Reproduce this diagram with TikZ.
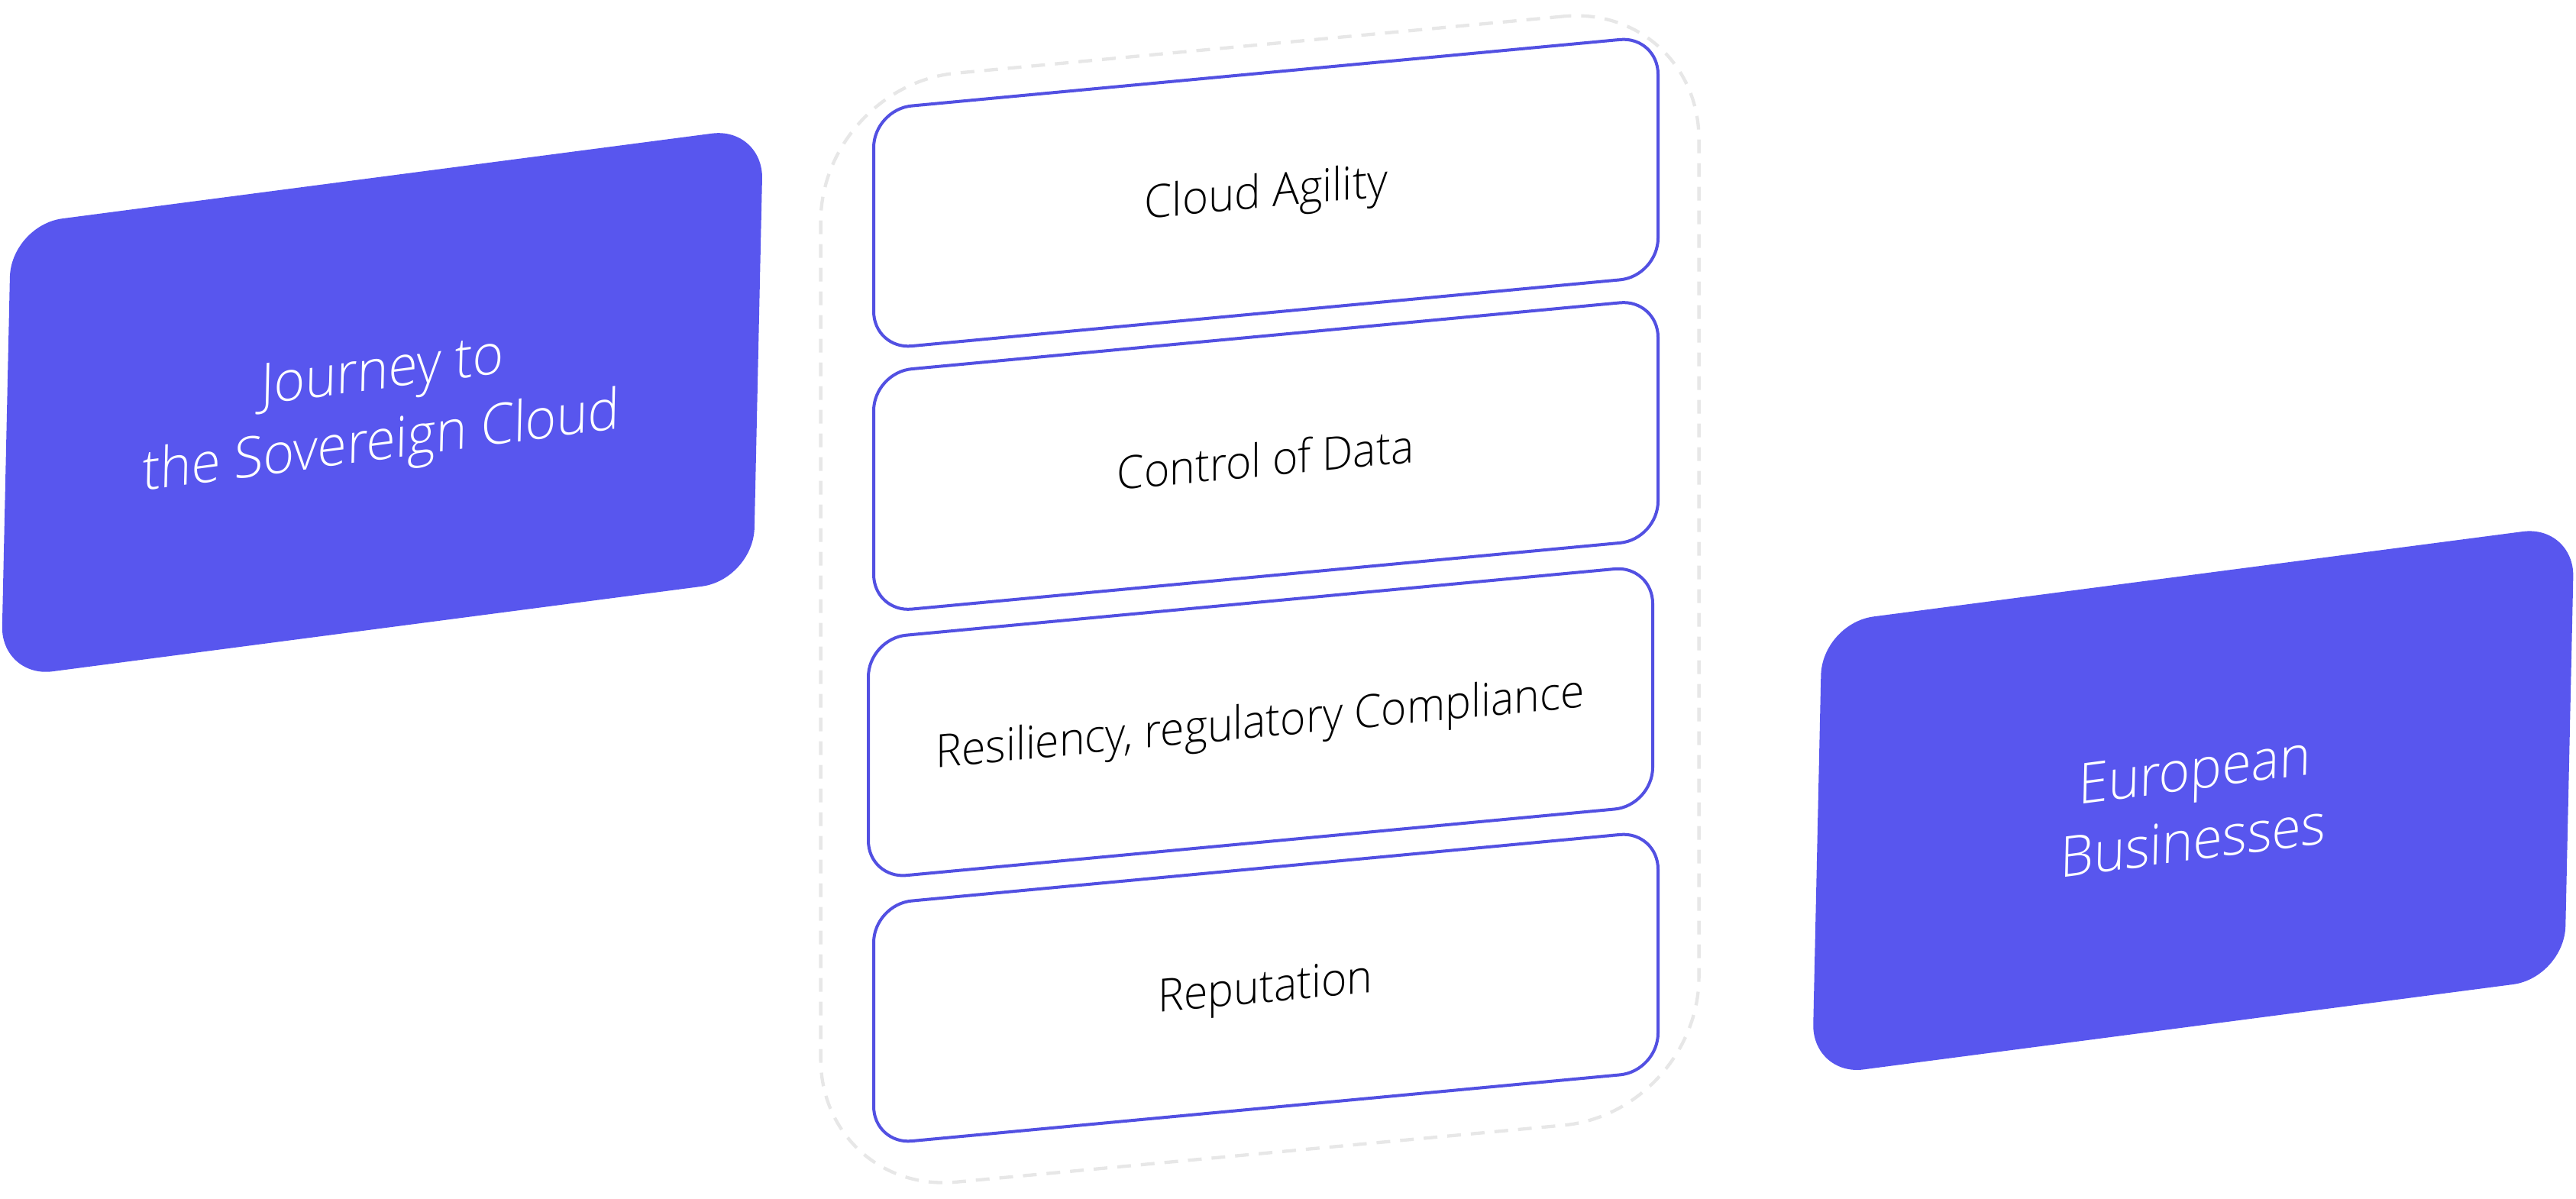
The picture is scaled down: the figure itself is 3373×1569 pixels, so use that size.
\documentclass[tikz,border=0pt]{standalone}
\usepackage{fontspec}
\setmainfont{Open Sans Light}
\definecolor{cardblue}{RGB}{88,86,238}
\definecolor{linkblue}{RGB}{82,80,226}
\definecolor{dashgrey}{RGB}{231,231,231}
\tikzset{
  card/.style={fill=cardblue,draw=none,rectangle,inner sep=0pt,minimum width=985pt,minimum height=593pt,rounded corners=68pt,cm={1,0.131,0.022,1,(0,0)}},
  midbox/.style={fill=white,draw=linkblue,line width=4pt,rectangle,inner sep=0pt,minimum width=1027pt,minimum height=314.5pt,rounded corners=50pt,yslant=0.0935},
  outline/.style={draw=dashgrey,line width=4.3pt,rectangle,inner sep=0pt,minimum width=1150pt,minimum height=1452pt,rounded corners=178pt,yslant=0.0935,dash pattern=on 18pt off 13pt},
  cardtext/.style={text=white,align=center,font=\fontsize{74}{93}\selectfont,inner sep=0pt,cm={0.94,0.1231,0.022,1,(0,0)}},
  midtext/.style={text=black,font=\fontsize{60}{60}\selectfont,inner sep=0pt,cm={0.95,0.0888,0,1,(0,0)}},
  widetext/.style={text=black,font=\fontsize{60}{60}\selectfont,inner sep=0pt,cm={0.97,0.0907,0,1,(0,0)}}
}
\begin{document}
\begin{tikzpicture}[x=1pt,y=1pt]
\useasboundingbox (0,0) rectangle (3373,1569);
\node[outline] (frame) at (1649.6,1569-784.6) {};
\node[card] (left) at (500.4,1569-527) {};
\node[card] (right) at (2871.8,1569-1048.2) {};
\node[midbox] (b1) at (1657.5,1569-252.5) {};
\node[midbox] (b2) at (1657.5,1569-597) {};
\node[midbox] (b3) at (1650.5,1569-945.6) {};
\node[midbox] (b4) at (1657.5,1569-1293.5) {};
\node[cardtext] (tl) at (500,1569-538) {Journey to\\the Sovereign Cloud};
\node[cardtext] (tr) at (2873,1569-1054) {European\\Businesses};
\node[widetext] (t1) at (1658,1569-256) {Cloud Agility};
\node[midtext] (t2) at (1657,1569-600.7) {Control of Data};
\node[midtext] (t3) at (1650,1569-950) {Resiliency, regulatory Compliance};
\node[midtext] (t4) at (1657,1569-1298) {Reputation};
\end{tikzpicture}
\end{document}
